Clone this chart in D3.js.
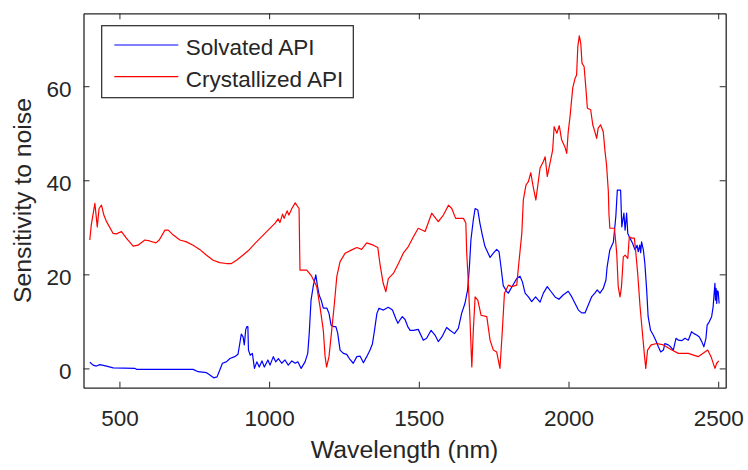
<!DOCTYPE html>
<html>
<head>
<meta charset="utf-8">
<script src="https://cdn.jsdelivr.net/npm/d3@7"></script>
<style>
  body { margin: 0; background: #fff; }
  svg text { font-family: "Liberation Sans", Arial, sans-serif; fill: #262626; }
</style>
</head>
<body>
<div id="chart"></div>
<script>
// Solvated API (blue)
const solvated_wl = [401,412,423,435,457,479,552,557,746,763,791,802,815,826,835,844,857,869,885,896,902,907,913,917,922,926,929,931,937,944,951,959,967,976,984,996,1003,1014,1022,1031,1042,1053,1064,1076,1087,1096,1107,1120,1129,1134,1140,1148,1156,1161,1167,1174,1181,1193,1200,1207,1215,1223,1229,1237,1248,1259,1270,1281,1293,1304,1315,1326,1337,1345,1352,1360,1367,1382,1398,1412,1423,1430,1437,1445,1454,1463,1471,1482,1498,1515,1526,1541,1554,1565,1577,1593,1604,1619,1632,1643,1654,1663,1669,1674,1682,1688,1697,1704,1712,1721,1738,1749,1760,1768,1775,1782,1794,1799,1805,1816,1827,1838,1846,1855,1866,1877,1890,1905,1916,1929,1942,1955,1968,1982,1999,2011,2022,2033,2044,2055,2066,2077,2088,2096,2105,2116,2125,2129,2138,2150,2158,2163,2174,2178,2185,2189,2194,2198,2205,2214,2222,2229,2233,2238,2241,2244,2250,2255,2261,2266,2274,2283,2292,2300,2308,2317,2322,2333,2341,2350,2359,2367,2378,2389,2400,2411,2419,2428,2437,2445,2452,2459,2463,2470,2478,2483,2489,2491,2493,2495,2497,2500,2503]
const solvated_val = [1.3,0.7,0.5,0.8,0.5,0.1,0.0,-0.2,-0.2,-0.7,-0.9,-1.4,-2.0,-1.8,-0.4,1.1,1.4,2.1,2.5,3.0,5.3,7.3,6.7,5.0,8.3,8.9,8.9,3.9,2.8,3.2,0.0,1.4,0.3,1.6,0.3,1.8,0.7,2.5,1.4,2.1,1.1,1.8,0.7,1.6,1.1,1.4,0.0,1.4,3.2,7.5,14.5,17.7,19.9,17.7,15.6,14.5,12.8,12.8,11.7,9.2,8.9,8.9,7.5,3.9,3.2,3.0,1.9,1.1,2.5,2.6,1.2,2.5,3.9,5.2,8.1,11.7,12.8,12.4,13.0,12.4,10.6,9.6,10.3,11.0,10.4,8.9,8.1,8.1,8.3,6.0,6.4,8.1,7.1,5.7,6.7,8.7,8.1,7.4,8.5,11.7,13.8,16.7,21.6,27.3,31.6,34.0,33.7,30.9,28.4,25.9,23.6,24.5,25.3,24.8,21.3,17.6,16.3,16.0,16.7,17.9,19.1,19.6,18.4,16.0,15.2,14.2,15.2,14.1,16.0,17.4,16.3,15.2,14.7,15.6,16.4,15.2,13.8,12.4,11.8,11.8,13.5,15.2,16.0,16.7,16.0,17.0,18.8,21.6,25.2,26.9,32.3,37.9,37.9,30.1,33.0,29.4,33.0,28.7,27.7,26.6,25.2,26.2,24.8,26.2,24.6,26.9,25.2,22.3,16.7,11.0,8.1,7.1,5.9,4.6,3.5,3.9,5.3,5.0,4.6,3.9,6.4,6.0,5.9,6.4,6.0,7.8,7.4,7.1,6.7,5.7,4.6,6.4,9.2,9.9,11.0,13.1,18.1,14.5,17.0,13.8,16.5,16.3,13.8]

// Crystallized API (red)
const crystal_wl = [401,406,418,426,432,440,448,457,479,490,507,523,546,562,585,601,622,633,652,663,679,702,724,746,768,790,813,835,857,874,891,913,930,953,986,1020,1030,1036,1045,1050,1060,1066,1076,1087,1100,1103,1126,1142,1159,1170,1181,1187,1192,1200,1209,1218,1226,1237,1254,1276,1293,1309,1326,1348,1363,1370,1381,1390,1398,1415,1432,1448,1465,1482,1498,1521,1543,1565,1582,1599,1610,1623,1649,1657,1660,1665,1671,1677,1682,1688,1697,1708,1727,1738,1749,1760,1771,1779,1786,1799,1810,1827,1835,1844,1849,1858,1866,1874,1882,1891,1905,1916,1922,1929,1938,1947,1952,1961,1969,1977,1988,1994,1999,2005,2014,2022,2027,2031,2036,2041,2045,2052,2058,2063,2074,2081,2088,2094,2099,2107,2116,2122,2127,2133,2135,2138,2153,2155,2161,2166,2172,2177,2183,2189,2198,2203,2211,2220,2225,2231,2239,2246,2253,2258,2264,2276,2295,2317,2345,2367,2400,2433,2465,2476,2489,2495,2502]
const crystal_val = [27.3,30.5,35.1,30.1,34.0,34.7,32.6,31.2,28.7,28.6,29.1,27.7,26.0,26.2,27.3,27.1,26.7,27.3,29.4,29.4,28.4,27.3,26.9,26.2,25.3,24.1,23.0,22.5,22.3,22.3,23.0,24.1,25.0,26.6,28.7,30.9,31.8,31.0,32.8,31.9,33.5,32.6,34.0,35.2,34.0,20.9,20.9,19.6,17.4,13.1,8.1,2.5,0.3,2.5,8.1,13.8,19.5,22.7,24.5,25.2,25.7,25.3,26.7,26.2,25.7,22.3,18.1,16.3,19.1,20.2,22.3,24.5,25.9,28.0,29.8,29.1,33.0,31.2,32.6,34.7,34.0,31.9,31.9,30.9,24.5,18.8,10.3,0.3,8.1,15.2,14.5,11.3,11.0,6.0,3.9,3.5,0.0,8.1,16.0,17.7,17.4,17.7,23.0,28.7,35.8,39.0,39.7,41.6,38.6,35.8,42.6,44.0,45.0,40.8,43.6,46.4,51.4,50.0,51.6,48.6,47.1,45.7,50.3,53.5,59.6,61.7,62.4,68.4,70.7,69.1,64.9,64.2,59.6,55.3,55.0,51.8,50.3,48.9,51.1,51.8,50.3,46.1,43.3,37.6,33.0,29.8,29.8,28.7,24.5,17.4,15.2,17.4,23.7,24.1,23.4,28.0,27.7,27.7,24.5,20.2,13.1,8.1,3.2,0.0,3.9,5.0,5.3,5.0,3.9,3.2,3.2,2.5,3.9,2.5,0.0,1.1,1.6]

const x_ticks = [500, 1000, 1500, 2000, 2500]
const y_ticks = [0, 20, 40, 60]
const series_names = ["Solvated API", "Crystallized API"]
const series_colors = ["#0000ff", "#ff0000"]

// layout
const width = 748
const height = 470
const plot_left = 83.5, plot_right = 725.7, plot_top = 13.3, plot_bottom = 387.7
const axis_color = "#262626"

const x = d3.scaleLinear().domain([380, 2525]).range([plot_left, plot_right])
const y = d3.scaleLinear().domain([-4.1, 75.5]).range([plot_bottom, plot_top])

var svg = d3.select("#chart").append("svg")
    .attr("width", width)
    .attr("height", height)

svg.append("clipPath").attr("id", "plot_clip")
  .append("rect")
    .attr("x", plot_left).attr("y", plot_top)
    .attr("width", plot_right - plot_left).attr("height", plot_bottom - plot_top)

// curves
const line = d3.line().x(d => x(d[0])).y(d => y(d[1]))
const series = [
    d3.zip(solvated_wl, solvated_val),
    d3.zip(crystal_wl, crystal_val)
]
series.forEach((pts, i) => {
    svg.append("path")
        .datum(pts)
        .attr("clip-path", "url(#plot_clip)")
        .attr("fill", "none")
        .attr("stroke", series_colors[i])
        .attr("stroke-width", 1.2)
        .attr("stroke-linejoin", "round")
        .attr("d", line)
})

// axes (box with inward ticks)
function style_axis(g){
    g.selectAll(".domain").attr("stroke", axis_color).attr("stroke-width", 1.3)
    g.selectAll(".tick line").attr("stroke", axis_color).attr("stroke-width", 1)
    g.selectAll(".tick text").attr("font-size", 22.5).attr("fill", axis_color)
}

svg.append("g")
    .attr("transform", "translate(0," + plot_bottom + ")")
    .call(d3.axisBottom(x).tickValues(x_ticks).tickFormat(d3.format("d"))
        .tickSize(-6).tickSizeOuter(0).tickPadding(22))
    .call(style_axis)

svg.append("g")
    .attr("transform", "translate(0," + plot_top + ")")
    .call(d3.axisTop(x).tickValues(x_ticks).tickFormat("").tickSize(-6).tickSizeOuter(0))
    .call(style_axis)

svg.append("g")
    .attr("transform", "translate(" + plot_left + ",0)")
    .call(d3.axisLeft(y).tickValues(y_ticks).tickFormat(d3.format("d"))
        .tickSize(-6).tickSizeOuter(0).tickPadding(12))
    .call(style_axis)
    .selectAll(".tick text").attr("dy", "0.45em")

svg.append("g")
    .attr("transform", "translate(" + plot_right + ",0)")
    .call(d3.axisRight(y).tickValues(y_ticks).tickFormat("").tickSize(-6).tickSizeOuter(0))
    .call(style_axis)

// axis labels
svg.append("text")
    .attr("x", (plot_left + plot_right) / 2)
    .attr("y", 458)
    .attr("text-anchor", "middle")
    .attr("font-size", 24.75)
    .text("Wavelength (nm)")

svg.append("text")
    .attr("transform", "translate(31," + (plot_top + plot_bottom) / 2 + ") rotate(-90)")
    .attr("text-anchor", "middle")
    .attr("font-size", 24.75)
    .text("Sensitivity to noise")

// legend
const legend = svg.append("g")
legend.append("rect")
    .attr("x", 101.7).attr("y", 25.7)
    .attr("width", 251.6).attr("height", 72)
    .attr("fill", "#fff")
    .attr("stroke", axis_color)
    .attr("stroke-width", 1.2)

const legend_rows = [45, 76.7]
series_names.forEach((name, i) => {
    legend.append("line")
        .attr("x1", 114.3).attr("x2", 178.3)
        .attr("y1", legend_rows[i]).attr("y2", legend_rows[i])
        .attr("stroke", series_colors[i])
        .attr("stroke-width", 1.2)
    legend.append("text")
        .attr("x", 185.7)
        .attr("y", legend_rows[i] + 10.3)
        .attr("font-size", 22.5)
        .text(name)
})
</script>
</body>
</html>
